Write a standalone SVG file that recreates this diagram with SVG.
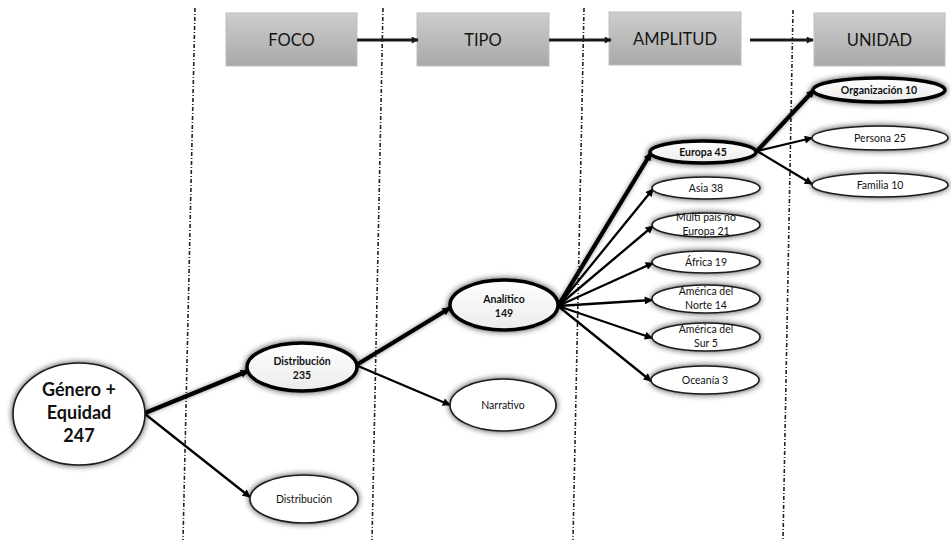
<svg xmlns="http://www.w3.org/2000/svg" width="951" height="542" viewBox="0 0 951 542">
<defs>
<style>
.sep{stroke:#222;stroke-width:1.6;stroke-dasharray:4 2 1 2;fill:none}
.box{fill:url(#gbox);stroke:#bdbdbd;stroke-width:1}
.btx{font-family:Lato,"Liberation Sans",sans-serif;font-size:16.5px;fill:#151515;text-anchor:middle}
.ell{fill:#fff;stroke:#1a1a1a;stroke-width:1.6;filter:url(#sh)}
.ellb{fill:url(#gell);stroke:#000;stroke-width:3.5;filter:url(#sh)}
.t{font-family:Lato,"Liberation Sans",sans-serif;font-size:10.5px;fill:#111;text-anchor:middle}
.tb{font-weight:bold}
.e{stroke:#000;stroke-width:2.3;fill:none;marker-end:url(#ah)}
.ek{stroke:#000;stroke-width:4.2;fill:none;marker-end:url(#ah);filter:url(#lsh)}
.top{stroke:#1a1a1a;stroke-width:2.8;fill:none;marker-end:url(#ah2)}
</style>
<linearGradient id="gbox" x1="0" y1="0" x2="0" y2="1">
<stop offset="0" stop-color="#cdcdcd"/><stop offset="1" stop-color="#a9a9a9"/>
</linearGradient>
<linearGradient id="gell" x1="0" y1="0" x2="0" y2="1">
<stop offset="0" stop-color="#ffffff"/><stop offset="1" stop-color="#ebebeb"/>
</linearGradient>
<filter id="sh" x="-30%" y="-70%" width="160%" height="240%">
<feGaussianBlur in="SourceAlpha" stdDeviation="3.2"/>
<feComponentTransfer><feFuncA type="linear" slope="0.75"/></feComponentTransfer>
<feMerge><feMergeNode/><feMergeNode in="SourceGraphic"/></feMerge>
</filter>
<filter id="lsh" x="-20%" y="-20%" width="140%" height="140%">
<feGaussianBlur in="SourceAlpha" stdDeviation="2"/>
<feComponentTransfer><feFuncA type="linear" slope="0.45"/></feComponentTransfer>
<feMerge><feMergeNode/><feMergeNode in="SourceGraphic"/></feMerge>
</filter>
<marker id="ah" viewBox="0 0 10 10" refX="9" refY="5" markerWidth="9" markerHeight="8" markerUnits="userSpaceOnUse" orient="auto">
<path d="M0,0 L10,5 L0,10 z" fill="#000"/>
</marker>
<marker id="ah2" viewBox="0 0 10 10" refX="9" refY="5" markerWidth="8" markerHeight="7" markerUnits="userSpaceOnUse" orient="auto">
<path d="M0,0 L10,5 L0,10 z" fill="#1a1a1a"/>
</marker>
</defs>
<rect width="951" height="542" fill="#fff"/>

<g id="separators">
<line class="sep" x1="195" y1="8" x2="183" y2="540"/>
<line class="sep" x1="383" y1="8" x2="372" y2="540"/>
<line class="sep" x1="584" y1="8" x2="573" y2="540"/>
<line class="sep" x1="793" y1="10" x2="783" y2="540"/>
</g>

<g id="header-foco"><rect class="box" x="226" y="13" width="131" height="53"/><text class="btx" x="291.5" y="46">FOCO</text></g>
<g id="header-tipo"><rect class="box" x="417" y="13" width="132" height="53"/><text class="btx" x="483" y="46">TIPO</text></g>
<g id="header-amplitud"><rect class="box" x="609" y="12" width="132" height="53"/><text class="btx" x="675" y="45">AMPLITUD</text></g>
<g id="header-unidad"><rect class="box" x="814" y="13" width="131" height="53"/><text class="btx" x="879.5" y="46">UNIDAD</text></g>

<g id="connectors">
<line class="top" x1="357" y1="40" x2="418" y2="40"/>
<line class="top" x1="549" y1="40" x2="611" y2="40"/>
<line class="top" x1="750" y1="40" x2="813" y2="40"/>
<line class="ek" x1="145" y1="413" x2="248" y2="371"/>
<line class="e" x1="145" y1="414" x2="250" y2="497"/>
<line class="ek" x1="358" y1="364" x2="450" y2="308"/>
<line class="e" x1="358" y1="366" x2="450" y2="405"/>
<line class="ek" x1="558" y1="306" x2="651" y2="153"/>
<line class="e" x1="558" y1="306" x2="653" y2="189"/>
<line class="e" x1="558" y1="306" x2="653" y2="226"/>
<line class="e" x1="558" y1="306" x2="653" y2="263"/>
<line class="e" x1="558" y1="306" x2="652" y2="300"/>
<line class="e" x1="558" y1="306" x2="652" y2="338"/>
<line class="e" x1="558" y1="306" x2="651" y2="381"/>
<line class="ek" x1="757" y1="151" x2="814" y2="90"/>
<line class="e" x1="757" y1="151" x2="812" y2="138"/>
<line class="e" x1="757" y1="151" x2="812" y2="184"/>
</g>

<g id="genero"><ellipse class="ell" cx="79" cy="414" rx="66" ry="51"/>
<text class="t tb" style="font-size:18px" x="79" y="396">Género +</text>
<text class="t tb" style="font-size:18px" x="79" y="419">Equidad</text>
<text class="t tb" style="font-size:18px" x="79" y="442">247</text></g>

<g id="distribucion235"><ellipse class="ellb" cx="302" cy="367" rx="55" ry="24"/>
<text class="t tb" x="302" y="365">Distribución</text><text class="t tb" x="302" y="379">235</text></g>

<g id="distribucion"><ellipse class="ell" cx="304" cy="499" rx="54" ry="24"/>
<text class="t" x="304" y="503">Distribución</text></g>

<g id="analitico"><ellipse class="ellb" cx="504" cy="305" rx="54" ry="25"/>
<text class="t tb" x="504" y="303">Analítico</text><text class="t tb" x="504" y="317">149</text></g>

<g id="narrativo"><ellipse class="ell" cx="503" cy="405" rx="53" ry="26"/>
<text class="t" x="503" y="409">Narrativo</text></g>

<g id="europa"><ellipse class="ellb" cx="703" cy="152" rx="53" ry="11"/>
<text class="t tb" x="703" y="156">Europa 45</text></g>

<g id="asia"><ellipse class="ell" cx="706" cy="188" rx="54" ry="11"/>
<text class="t" x="706" y="192">Asia 38</text></g>

<g id="multipais"><ellipse class="ell" cx="706" cy="225" rx="54" ry="12"/>
<text class="t" x="706" y="221">Multi país no</text><text class="t" x="706" y="235">Europa 21</text></g>

<g id="africa"><ellipse class="ell" cx="706" cy="262" rx="54" ry="11"/>
<text class="t" x="706" y="266">África 19</text></g>

<g id="america-norte"><ellipse class="ell" cx="706" cy="299" rx="54" ry="14"/>
<text class="t" x="706" y="295">América del</text><text class="t" x="706" y="309">Norte 14</text></g>

<g id="america-sur"><ellipse class="ell" cx="706" cy="337" rx="54" ry="14"/>
<text class="t" x="706" y="333">América del</text><text class="t" x="706" y="347">Sur 5</text></g>

<g id="oceania"><ellipse class="ell" cx="705" cy="380" rx="54" ry="14"/>
<text class="t" x="705" y="384">Oceanía 3</text></g>

<g id="organizacion"><ellipse class="ellb" cx="879" cy="90" rx="66" ry="12"/>
<text class="t tb" x="879" y="94">Organización 10</text></g>

<g id="persona"><ellipse class="ell" cx="880" cy="138" rx="68" ry="12"/>
<text class="t" x="880" y="142">Persona 25</text></g>

<g id="familia"><ellipse class="ell" cx="880" cy="185" rx="68" ry="12"/>
<text class="t" x="880" y="189">Familia 10</text></g>
</svg>
